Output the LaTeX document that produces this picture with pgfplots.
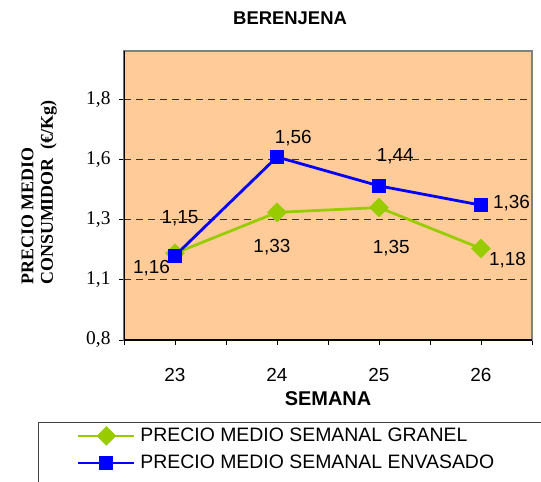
\documentclass[border=0pt]{standalone}
\usepackage{fontspec}
\setmainfont{Liberation Sans}
\newfontfamily\serif{Liberation Serif}
\usepackage{pgfplots}
\pgfplotsset{compat=1.18}
\definecolor{peach}{RGB}{255,204,153}
\definecolor{granel}{RGB}{153,204,0}
\definecolor{envasado}{RGB}{0,0,255}
\definecolor{frame}{RGB}{128,128,128}

\begin{document}
\begin{tikzpicture}
\useasboundingbox (-124bp,-142bp) rectangle (417bp,340bp);
\clip (-124bp,-142bp) rectangle (417bp,340bp);
\begin{axis}[
  at={(0,0)}, anchor=south west,
  scale only axis,
  width=408bp, height=289bp,
  xmin=22.5, xmax=26.5,
  ymin=0.8, ymax=2.0,
  xtick={23,24,25,26},
  minor xtick={22.5,23.5,24.5,25.5,26.5},
  ytick={0.8,1.05,1.3,1.55,1.8},
  yticklabels={{0,8},{1,1},{1,3},{1,6},{1,8}},
  tick align=outside,
  xtick pos=bottom, ytick pos=left,
  major tick length=5bp, minor tick length=5bp,
  tick style={black, line width=0.6bp},
  axis line style={draw=frame, line width=1.2bp},
  axis background/.style={fill=peach},
  ymajorgrids,
  major grid style={black!80, line width=0.7bp, dash pattern=on 7bp off 5bp},
  /pgf/number format/assume math mode=true,
  xticklabel style={font=\fontsize{19}{20}\selectfont, anchor=center, yshift=-30bp},
  yticklabel style={font=\serif\fontsize{19.5}{20}\selectfont, anchor=east, xshift=-5bp},
  title={BERENJENA},
  title style={font=\bfseries\fontsize{18.5}{20}\selectfont, at={(axis description cs:0.407,1.092)}, anchor=center},
  xlabel={SEMANA},
  xlabel style={font=\bfseries\fontsize{20}{22}\selectfont, at={(axis description cs:0.5,-0.204)}, anchor=center},
  ylabel={PRECIO MEDIO\\CONSUMIDOR\ \ (€/Kg)},
  ylabel style={font=\serif\bfseries\fontsize{18}{19.5}\selectfont, align=left, at={(axis description cs:-0.208,0.51)}, anchor=center},
  legend style={at={(axis description cs:-0.2108,-0.2837)}, anchor=north west,
    draw=black!75, fill=white, line width=0.8bp, inner xsep=0pt, inner ysep=0pt,
    nodes={inner sep=0pt}, font=\fontsize{19.5}{20}\selectfont, row sep=0pt},
  legend cell align=left,
  legend image code/.code={
    \path[draw=none, fill=none] (0bp,-13.5bp) rectangle (102bp,13.5bp);
    \draw[line width=2.6bp, mark repeat=2, mark phase=2] plot coordinates {(40bp,0bp)(68bp,0bp)(96bp,0bp)};
  },
]
\addplot[granel, line width=2.8bp, mark=square*, mark size=5.6bp, mark options={rotate=45, solid}]
  coordinates {(23,1.16)(24,1.33)(25,1.35)(26,1.18)};
\addlegendentry{\makebox[420bp][l]{PRECIO MEDIO SEMANAL GRANEL}}
\addplot[envasado, line width=2.8bp, mark=square*, mark size=5.8bp]
  coordinates {(23,1.15)(24,1.56)(25,1.44)(26,1.36)};
\addlegendentry{PRECIO MEDIO SEMANAL ENVASADO}
\addlegendimage{empty legend}
\addlegendentry{\rule{0pt}{20bp}}
\draw[black, line width=1.2bp] (rel axis cs:0,1) -- (rel axis cs:0,0) -- (rel axis cs:1,0);
\begin{scope}[font=\fontsize{19}{20}\selectfont]
\node at (axis cs:23.05,1.306) {1,15};
\node at (axis cs:22.77,1.099) {1,16};
\node at (axis cs:24.16,1.638) {1,56};
\node at (axis cs:25.16,1.563) {1,44};
\node at (axis cs:26.30,1.368) {1,36};
\node at (axis cs:23.95,1.186) {1,33};
\node at (axis cs:25.12,1.182) {1,35};
\node at (axis cs:26.26,1.132) {1,18};
\end{scope}
\end{axis}
\end{tikzpicture}
\end{document}
